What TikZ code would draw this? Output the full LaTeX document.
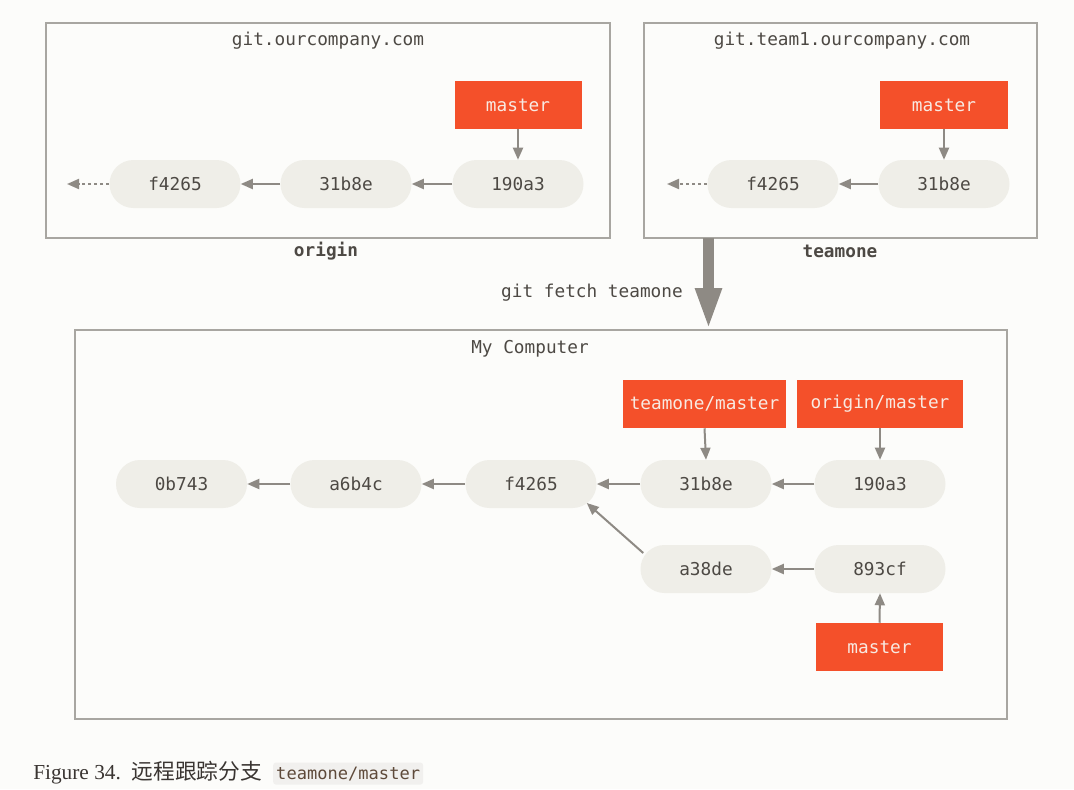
\documentclass[tikz,border=0pt]{standalone}
\usepackage{fontspec}
\setmainfont{Liberation Serif}
\setmonofont{DejaVu Sans Mono}
\newfontfamily\cjk{Noto Sans CJK SC}
\usetikzlibrary{arrows.meta}
\definecolor{bgc}{HTML}{FCFCFA}
\definecolor{framec}{HTML}{A8A6A1}
\definecolor{pillc}{HTML}{EFEEE8}
\definecolor{redc}{HTML}{F4502A}
\definecolor{brtxt}{HTML}{F8EAE2}
\definecolor{txt}{HTML}{4D4944}
\definecolor{arrc}{HTML}{8E8A84}
\definecolor{codebg}{HTML}{F1F0EE}
\definecolor{codetxt}{HTML}{5E4A3A}
\definecolor{captxt}{HTML}{3A3532}
\begin{document}
\begin{tikzpicture}[x=0.75pt,y=-0.75pt,
  mono/.style={font=\ttfamily\fontsize{13.3}{15}\selectfont},
  commit/.style={mono, fill=pillc, rounded corners=18pt, minimum width=98.25pt, minimum height=36pt, text=txt, inner sep=0pt},
  branch/.style={mono, fill=redc, minimum height=36pt, text=brtxt, inner sep=0pt},
  frame/.style={draw=framec, line width=1.5pt, inner sep=0pt},
  title/.style={mono, text=txt, inner sep=0pt},
  arr/.style={draw=arrc, line width=1.5pt, -{Triangle[length=9pt,width=7.5pt]}},
  darr/.style={arr, dash pattern=on 2.25pt off 2.25pt}
]
\fill[bgc] (0,0) rectangle (1074,789);
\useasboundingbox (0,0) rectangle (1074,789);

% frames
\node[frame, minimum width=423pt, minimum height=161.25pt] (originbox) at (328,130.5) {};
\node[frame, minimum width=294.75pt, minimum height=161.25pt] (teambox) at (840.5,130.5) {};
\node[frame, minimum width=699pt, minimum height=291.75pt] (mybox) at (541,524.5) {};

% titles
\node[title] (t1) at (328,41) {git.ourcompany.com};
\node[title] (t2) at (842,41) {git.team1.ourcompany.com};
\node[title, font=\ttfamily\bfseries\fontsize{13.3}{15}\selectfont] (l1) at (326,251) {origin};
\node[title, font=\ttfamily\bfseries\fontsize{13.3}{15}\selectfont] (l2) at (840,251) {teamone};
\node[title] (t3) at (530,349) {My Computer};

% origin repo
\node[branch, minimum width=95.25pt] (om) at (518,105) {master};
\node[commit] (of) at (175,184) {f4265};
\node[commit] (o3) at (346,184) {31b8e};
\node[commit] (o1) at (518,184) {190a3};
\coordinate (oend) at (67,184);
\draw[arr] (om.south) -- (o1.north);
\draw[arr] (o1.west) -- (o3.east);
\draw[arr] (o3.west) -- (of.east);
\draw[darr] (of.west) -- (oend);

% teamone repo
\node[branch, minimum width=96pt] (tm) at (944,105) {master};
\node[commit] (tf) at (773,184) {f4265};
\node[commit] (t31) at (944,184) {31b8e};
\coordinate (tend) at (667,184);
\draw[arr] (tm.south) -- (t31.north);
\draw[arr] (t31.west) -- (tf.east);
\draw[darr] (tf.west) -- (tend);

% fetch arrow
\coordinate (ftop) at (708.5,238);
\coordinate (fbot) at (708.5,330);
\draw[arrc, line width=8.25pt, -{Triangle[length=31.5pt,width=18pt]}] (ftop) -- (fbot);
\node[title, anchor=east] (fl) at (683,293) {git fetch teamone};

% my computer
\node[branch, minimum width=122.25pt] (tmm) at (704.5,404) {teamone/master};
\node[branch, minimum width=124.5pt] (omm) at (880,404) {origin/master};
\node[commit] (c0) at (181.5,484) {0b743};
\node[commit] (c1) at (356,484) {a6b4c};
\node[commit] (c2) at (531,484) {f4265};
\node[commit] (c3) at (706,484) {31b8e};
\node[commit] (c4) at (880,484) {190a3};
\node[commit] (c5) at (706,569) {a38de};
\node[commit] (c6) at (880,569) {893cf};
\node[branch, minimum width=95.25pt] (mm) at (879.5,647) {master};
\draw[arr] (tmm.south) -- (c3.north);
\draw[arr] (omm.south) -- (c4.north);
\draw[arr] (c4.west) -- (c3.east);
\draw[arr] (c3.west) -- (c2.east);
\draw[arr] (c2.west) -- (c1.east);
\draw[arr] (c1.west) -- (c0.east);
\draw[arr] (c6.west) -- (c5.east);
\draw[arr] (mm.north) -- (c6.south);
\draw[arr] ([shift={(3,-16)}]c5.west) -- ([shift={(-10,19)}]c2.east);

% caption
\node[anchor=base west, inner sep=0pt, text=captxt, font=\fontsize{16}{18}\selectfont] (cap) at (33,779) {Figure 34.\hspace{8pt}{\cjk\fontsize{16.3}{18}\selectfont 远程跟踪分支}};
\node[anchor=base west, fill=codebg, rounded corners=2pt, inner xsep=2.25pt, inner ysep=3pt, text=codetxt, font=\ttfamily\fontsize{12.8}{14}\selectfont] (code) at ([xshift=8]cap.base east) {teamone/master};
\end{tikzpicture}
\end{document}
